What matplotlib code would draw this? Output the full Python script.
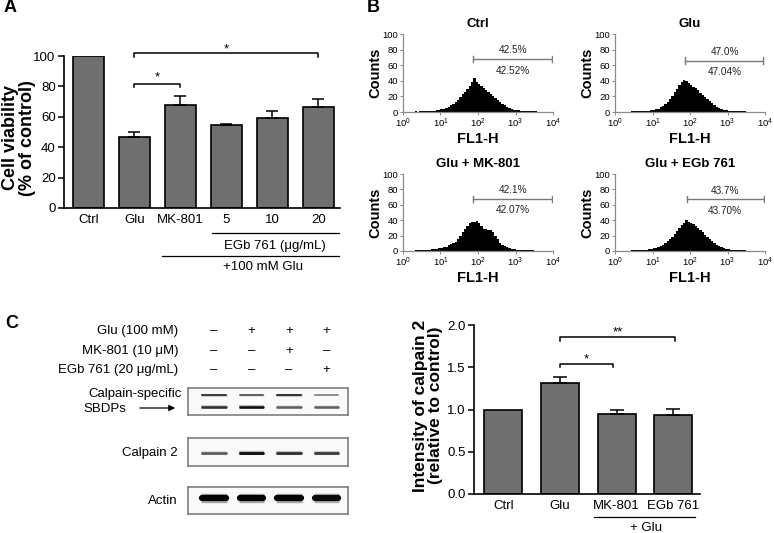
import numpy as np
import matplotlib
matplotlib.use('Agg')
import matplotlib.pyplot as plt
from matplotlib.transforms import blended_transform_factory as blend

plt.rcParams['font.family'] = ['Liberation Sans', 'DejaVu Sans']
plt.rcParams['mathtext.fontset'] = 'custom'
plt.rcParams['mathtext.rm'] = 'Liberation Sans'
plt.rcParams['mathtext.it'] = 'Liberation Sans:italic'
plt.rcParams['mathtext.bf'] = 'Liberation Sans:bold'

# ---------------- data ----------------
groups_A = ['Ctrl', 'Glu', 'MK-801', '5', '10', '20']
viability = [100, 46.5, 68, 54.5, 59, 66.5]
viability_err = [0, 3.5, 6, 1, 5, 5.5]

hist_titles = ['Ctrl', 'Glu', 'Glu + MK-801', 'Glu + EGb 761']
ctrl_counts = [0.4, 0.5, 0.4, 0.6, 0.5, 0.7, 0.6, 0.8, 0.9, 0.8, 1.1, 1.3, 1.6, 1.9, 2.3, 2.9,
               3.4, 4.3, 5.2, 6.6, 8.4, 10.1, 12.9, 15.6, 19.7, 23.4, 26.1, 29.8, 33.2, 38.9, 43.0, 38.0,
               36.1, 33.0, 31.4, 28.2, 25.6, 23.1, 20.3, 17.9, 15.2, 12.6, 10.8, 8.7, 6.4, 5.0, 4.0, 3.1,
               2.5, 2.1, 1.8, 1.5, 1.2, 1.1, 0.9, 0.8, 0.7, 0.6, 0.6, 0.5, 0.5, 0.4, 0.4, 0.3]
glu_counts = [0.4, 0.4, 0.5, 0.4, 0.5, 0.6, 0.5, 0.7, 0.7, 0.8, 0.9, 1.0, 1.2, 1.5, 1.8, 2.2,
              2.8, 3.5, 4.4, 5.8, 7.6, 9.9, 13.0, 16.7, 20.8, 25.1, 29.6, 34.0, 38.2, 41.0, 39.5, 37.1,
              35.0, 32.6, 30.2, 27.7, 25.0, 22.4, 19.6, 16.8, 13.9, 11.3, 9.0, 7.0, 5.3, 4.0, 3.1, 2.4,
              1.9, 1.6, 1.3, 1.1, 1.0, 0.9, 0.8, 0.7, 0.6, 0.6, 0.5, 0.5, 0.4, 0.4, 0.3, 0.3]
mk_counts = [0.4, 0.5, 0.5, 0.6, 0.6, 0.7, 0.8, 0.8, 1.0, 1.1, 1.3, 1.6, 2.0, 2.5, 3.1, 3.6,
             4.1, 4.8, 5.8, 7.5, 8.6, 10.1, 12.1, 15.4, 19.8, 24.2, 28.9, 33.0, 36.4, 38.1, 37.2, 38.5,
             36.9, 32.4, 29.0, 28.1, 27.8, 27.0, 24.3, 19.8, 15.1, 11.0, 8.2, 6.0, 4.6, 3.5, 2.7, 2.2,
             1.9, 1.6, 1.4, 1.2, 1.0, 0.9, 0.8, 0.7, 0.6, 0.6, 0.5, 0.5, 0.4, 0.4, 0.3, 0.3]
egb_counts = [0.3, 0.4, 0.4, 0.5, 0.5, 0.5, 0.6, 0.7, 0.8, 0.9, 1.0, 1.2, 1.5, 1.8, 2.2, 2.7,
              3.3, 4.1, 5.0, 6.3, 7.9, 9.8, 12.4, 15.3, 18.6, 22.3, 26.0, 29.9, 33.6, 36.8, 39.9, 37.4,
              36.2, 34.5, 32.0, 29.4, 26.9, 24.1, 21.2, 18.4, 15.5, 12.7, 10.2, 8.0, 6.2, 4.7, 3.6, 2.8,
              2.2, 1.8, 1.5, 1.2, 1.0, 0.9, 0.8, 0.7, 0.6, 0.5, 0.5, 0.4, 0.4, 0.4, 0.3, 0.3]
gate_start_log = [1.87, 1.87, 1.87, 1.91]
gate_end_log = [3.97, 3.95, 3.97, 3.98]
gate_level = [68, 66, 68, 67]
gate_pct_top = ['42.5%', '47.0%', '42.1%', '43.7%']
gate_pct_bottom = ['42.52%', '47.04%', '42.07%', '43.70%']

treat_rows = ['Glu (100 mM)', 'MK-801 (10 μM)', 'EGb 761 (20 μg/mL)']
treat_signs = [['–', '+', '+', '+'],
               ['–', '–', '+', '–'],
               ['–', '–', '–', '+']]
sbdp_upper = [0.75, 0.6, 0.8, 0.4]
sbdp_lower = [0.8, 0.95, 0.6, 0.6]
calpain2_band = [0.6, 0.95, 0.8, 0.75]
actin_band = [1.0, 1.0, 1.0, 0.95]

groups_C = ['Ctrl', 'Glu', 'MK-801', 'EGb 761']
calpain_int = [1.0, 1.31, 0.95, 0.93]
calpain_err = [0, 0.07, 0.04, 0.075]

# ---------------- layout helpers ----------------
W, H = 774, 533
fig = plt.figure(figsize=(W / 100, H / 100), dpi=100)


def rect(l, t, r, b):
    return [l / W, 1 - b / H, (r - l) / W, (b - t) / H]


def fx(x):
    return x / W


def fy(y):
    return 1 - y / H


BAR = '#6f6f6f'
EW = 1.2


def bar_axes(ax):
    for s in ['top', 'right']:
        ax.spines[s].set_visible(False)
    for s in ['left', 'bottom']:
        ax.spines[s].set_linewidth(1.2)
    ax.tick_params(axis='y', length=4, width=1.1, labelsize=9.5, pad=2)
    ax.tick_params(axis='x', length=0, labelsize=9.5, pad=4)


def bracket(ax, x0, x1, y, drop, text, ytext):
    ax.plot([x0, x0, x1, x1], [y - drop, y, y, y - drop], color='black', lw=1.1, clip_on=False)
    ax.text((x0 + x1) / 2, ytext, text, ha='center', va='baseline', fontsize=9.5, clip_on=False)


# ---------------- Panel A ----------------
axA = fig.add_axes(rect(64, 56, 340, 208))
xa = np.arange(len(groups_A))
axA.bar(xa, viability, width=0.67, color=BAR, edgecolor='black', linewidth=EW, zorder=2)
for xi, v, e in zip(xa, viability, viability_err):
    if e > 0:
        axA.errorbar([xi], [v], yerr=[[0], [e]], fmt='none', ecolor='black',
                     elinewidth=1.1, capsize=4.5, capthick=1.1, zorder=3)
axA.set_xlim(-0.53, 5.47)
axA.set_ylim(0, 100)
axA.set_yticks([0, 20, 40, 60, 80, 100])
axA.set_xticks(xa, groups_A)
bar_axes(axA)
axA.set_ylabel('Cell viability\n(% of control)', fontsize=13, fontweight='bold', linespacing=1.0)
axA.yaxis.set_label_coords(-0.1, 0.463)
bracket(axA, 1, 2, 81.6, 1.8, '*', 84)
bracket(axA, 1, 5, 101.8, 2.2, '*', 102.6)
trA = blend(axA.transData, axA.transAxes)
axA.plot([2.68, 5.45], [-0.164, -0.164], color='black', lw=0.9, transform=trA, clip_on=False)
axA.text(4.06, -0.25, 'EGb 761 (μg/mL)', ha='center', va='center', fontsize=9.5, transform=trA)
axA.plot([1.6, 5.45], [-0.316, -0.316], color='black', lw=0.9, transform=trA, clip_on=False)
axA.text(3.8, -0.386, '+100 mM Glu', ha='center', va='center', fontsize=9.5, transform=trA)
fig.text(fx(4), fy(8), 'A', fontsize=13, fontweight='bold', va='center', ha='left')

# ---------------- Panel B ----------------
edges = 10 ** np.linspace(0, 4, 65)
hist_rects = [(403, 34, 553, 112), (615, 34, 765, 112), (403, 174, 553, 251), (615, 174, 765, 251)]
hist_counts = [ctrl_counts, glu_counts, mk_counts, egb_counts]
for i in range(4):
    ax = fig.add_axes(rect(*hist_rects[i]))
    ax.stairs(hist_counts[i], edges, fill=True, color='black', lw=0)
    ax.set_xscale('log')
    ax.set_xlim(1, 1e4)
    ax.set_ylim(0, 100)
    ax.set_xticks([1, 10, 100, 1000, 10000], ['$10^{0}$', '$10^{1}$', '$10^{2}$', '$10^{3}$', '$10^{4}$'])
    ax.xaxis.set_minor_locator(matplotlib.ticker.NullLocator())
    ax.set_yticks([0, 20, 40, 60, 80, 100])
    for s in ['top', 'right']:
        ax.spines[s].set_visible(False)
    for s in ['left', 'bottom']:
        ax.spines[s].set_color('#8a8a8a')
        ax.spines[s].set_linewidth(0.9)
    ax.tick_params(length=2, width=0.7, color='#8a8a8a', labelsize=6.8, pad=1.5)
    ax.set_title(hist_titles[i], fontsize=9.5, fontweight='bold', pad=5)
    ax.set_xlabel('FL1-H', fontsize=10.5, fontweight='bold', labelpad=1)
    ax.set_ylabel('Counts', fontsize=10.5, fontweight='bold')
    ax.yaxis.set_label_coords(-0.14, 0.5)
    g0, g1, gy = 10 ** gate_start_log[i], 10 ** gate_end_log[i], gate_level[i]
    ax.plot([g0, g1], [gy, gy], color='#7a7a7a', lw=1.0)
    ax.plot([g0, g0], [gy - 4, gy + 4], color='#7a7a7a', lw=1.0)
    ax.plot([g1, g1], [gy - 4, gy + 4], color='#7a7a7a', lw=1.0)
    ax.text(10 ** 2.93, gy + 11, gate_pct_top[i], ha='center', va='center', fontsize=7.2, color='#222222')
    ax.text(10 ** 2.93, gy - 15, gate_pct_bottom[i], ha='center', va='center', fontsize=7.2, color='#222222')
fig.text(fx(367), fy(8), 'B', fontsize=13, fontweight='bold', va='center', ha='left')

# ---------------- Panel C: blots ----------------
fig.text(fx(5), fy(323), 'C', fontsize=13, fontweight='bold', va='center', ha='left')
lanes = np.arange(4)


def blot_axes(t, b):
    ax = fig.add_axes(rect(188, t, 348, b))
    ax.set_xlim(-0.693, 3.573)
    ax.set_ylim(1, 0)
    ax.set_xticks([])
    ax.set_yticks([])
    ax.set_facecolor('#fafafa')
    for s in ax.spines.values():
        s.set_color('#7f7f7f')
        s.set_linewidth(1.2)
    return ax


def draw_band(ax, yb, intens, lw):
    for xl, it in zip(lanes, intens):
        g = 0.92 - 0.92 * it
        ax.plot([xl - 0.34, xl + 0.34], [yb, yb], color=str(min(1, g + 0.45)), lw=lw * 1.5,
                solid_capstyle='butt', alpha=0.6)
        ax.plot([xl - 0.31, xl + 0.31], [yb, yb], color=str(g), lw=lw, solid_capstyle='round')


b1 = blot_axes(388, 415)
draw_band(b1, 0.26, sbdp_upper, 1.4)
draw_band(b1, 0.70, sbdp_lower, 1.8)
b2 = blot_axes(438, 466)
draw_band(b2, 0.52, calpain2_band, 2.0)
b3 = blot_axes(487, 514)
draw_band(b3, 0.42, actin_band, 4.5)

trS = blend(b1.transData, fig.transFigure)
row_y = [331, 351, 370]
for r, (lab, signs) in enumerate(zip(treat_rows, treat_signs)):
    fig.text(fx(178), fy(row_y[r]), lab, ha='right', va='center', fontsize=9.5)
    for xl, s in zip(lanes, signs):
        b1.text(xl, fy(row_y[r]), s, ha='center', va='center', fontsize=9.5, transform=trS)

fig.text(fx(182), fy(394), 'Calpain-specific', ha='right', va='center', fontsize=9.5)
fig.text(fx(83), fy(409), 'SBDPs', ha='left', va='center', fontsize=9.5)
b1.annotate('', xy=(fx(178), fy(408)), xytext=(fx(137), fy(408)), xycoords='figure fraction',
            textcoords='figure fraction',
            arrowprops=dict(arrowstyle='-|>', color='black', lw=0.9, mutation_scale=9))
fig.text(fx(178), fy(453), 'Calpain 2', ha='right', va='center', fontsize=9.5)
fig.text(fx(178), fy(501), 'Actin', ha='right', va='center', fontsize=9.5)

# ---------------- Panel C: bar chart ----------------
axC = fig.add_axes(rect(474, 325, 700, 494))
xc = np.arange(len(groups_C))
axC.bar(xc, calpain_int, width=0.67, color=BAR, edgecolor='black', linewidth=EW, zorder=2)
for xi, v, e in zip(xc, calpain_int, calpain_err):
    if e > 0:
        axC.errorbar([xi], [v], yerr=[[0], [e]], fmt='none', ecolor='black',
                     elinewidth=1.1, capsize=5, capthick=1.1, zorder=3)
axC.set_xlim(-0.52, 3.47)
axC.set_ylim(0, 2.0)
axC.set_yticks([0, 0.5, 1.0, 1.5, 2.0], ['0.0', '0.5', '1.0', '1.5', '2.0'])
axC.set_xticks(xc, groups_C)
bar_axes(axC)
axC.set_ylabel('Intensity of calpain 2\n(relative to control)', fontsize=12.5, fontweight='bold',
               linespacing=1.0)
axC.yaxis.set_label_coords(-0.137, 0.523)
bracket(axC, 1, 1.94, 1.54, 0.04, '*', 1.56)
bracket(axC, 1, 3.03, 1.86, 0.05, '**', 1.875)
trC = blend(axC.transData, axC.transAxes)
axC.plot([1.59, 3.39], [-0.138, -0.138], color='black', lw=0.9, transform=trC, clip_on=False)
axC.text(2.52, -0.2, '+ Glu', ha='center', va='center', fontsize=9.5, transform=trC)

fig.savefig('out.png', dpi=100)
